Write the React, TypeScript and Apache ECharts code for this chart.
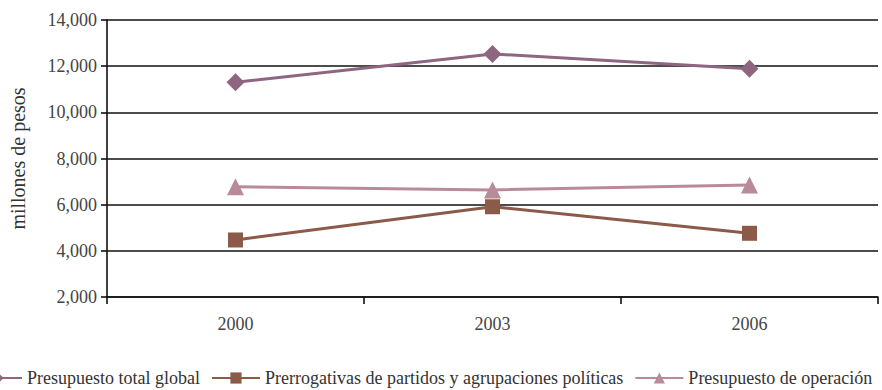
import React, { useEffect, useRef } from "react";
import * as echarts from "echarts";

const categories = ["2000", "2003", "2006"];
const totalGlobal = [11300, 12530, 11890];
const prerrogativas = [4470, 5910, 4760];
const operacion = [6780, 6640, 6850];
const seriesNames = [
  "Presupuesto total global",
  "Prerrogativas de partidos y agrupaciones políticas",
  "Presupuesto de operación",
];

const FONT = "'Liberation Serif', 'DejaVu Serif', serif";

export default function App() {
  const ref = useRef<HTMLDivElement>(null);
  useEffect(() => {
    if (!ref.current) return;
    const chart = echarts.init(ref.current, undefined, { renderer: "svg" });
    chart.setOption({
      animation: false,
      backgroundColor: "#ffffff",
      textStyle: { fontFamily: FONT },
      grid: {
        left: 107,
        right: 4,
        top: 20,
        bottom: 93,
        containLabel: false,
        outerBoundsMode: "none",
      },
      legend: {
        left: -27,
        top: 369,
        width: 960,
        padding: 0,
        itemWidth: 48,
        itemHeight: 14,
        itemGap: 11,
        textStyle: { fontFamily: FONT, fontSize: 18, color: "#333" },
        data: seriesNames,
      },
      xAxis: {
        type: "category",
        data: categories,
        boundaryGap: true,
        axisLine: { lineStyle: { color: "#111", width: 1.6 } },
        axisTick: { show: true, length: 7, lineStyle: { color: "#111", width: 1.6 } },
        axisLabel: { fontFamily: FONT, fontSize: 18, color: "#444", margin: 18 },
      },
      yAxis: {
        type: "value",
        min: 2000,
        max: 14000,
        interval: 2000,
        name: "millones de pesos",
        nameLocation: "middle",
        nameGap: 79,
        nameTextStyle: { fontFamily: FONT, fontSize: 20, color: "#333" },
        axisLine: { show: true, lineStyle: { color: "#111", width: 1.6 } },
        axisTick: { show: true, length: 6, lineStyle: { color: "#111", width: 1.6 } },
        axisLabel: {
          fontFamily: FONT,
          fontSize: 18,
          color: "#444",
          margin: 10,
          formatter: (v: number) => v.toLocaleString("en-US"),
        },
        splitLine: { lineStyle: { color: "#111", width: 1.6 } },
      },
      series: [
        {
          name: seriesNames[0],
          type: "line",
          data: totalGlobal,
          symbol: "diamond",
          symbolSize: 18,
          lineStyle: { color: "#8E6680", width: 3 },
          itemStyle: { color: "#8E6680" },
        },
        {
          name: seriesNames[1],
          type: "line",
          data: prerrogativas,
          symbol: "rect",
          symbolSize: 15,
          lineStyle: { color: "#8B5A48", width: 3 },
          itemStyle: { color: "#8B5A48" },
        },
        {
          name: seriesNames[2],
          type: "line",
          data: operacion,
          symbol: "triangle",
          symbolSize: 17,
          lineStyle: { color: "#B98A9A", width: 3 },
          itemStyle: { color: "#B98A9A" },
        },
      ],
    });
    return () => chart.dispose();
  }, []);
  return (
    <div
      ref={ref}
      style={{ position: "fixed", left: 0, top: 0, width: 882, height: 390, background: "#fff" }}
    />
  );
}
